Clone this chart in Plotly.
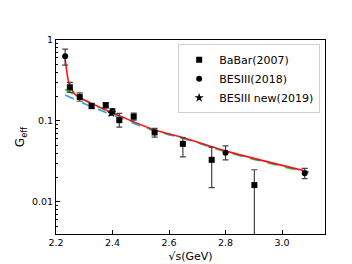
import plotly.graph_objects as go

# BaBar(2007)
babar_x = [2.249, 2.284, 2.326, 2.376, 2.424, 2.475, 2.549, 2.649, 2.751, 2.902]
babar_y = [0.26, 0.197, 0.153, 0.156, 0.102, 0.113, 0.072, 0.052, 0.033, 0.0161]
babar_ep = [0.04, 0.025, 0.012, 0.012, 0.022, 0.012, 0.009, 0.010, 0.014, 0.0088]
babar_em = [0.035, 0.022, 0.011, 0.011, 0.018, 0.011, 0.009, 0.016, 0.018, 0.01605]

# BESIII(2018)
bes18_x = [2.2324, 2.400, 2.800, 3.080]
bes18_y = [0.63, 0.132, 0.0404, 0.0225]
bes18_ep = [0.14, 0.010, 0.0086, 0.0034]
bes18_em = [0.14, 0.010, 0.0074, 0.0032]

# BESIII new(2019)
bes19_x = [2.396]
bes19_y = [0.125]
bes19_e = [0.008]

# fit curves
red_x = [2.2314, 2.2464, 2.2576, 2.2698, 2.3222, 2.4328, 2.5466, 2.6513, 2.8028, 3.0935]
red_y = [0.634, 0.287, 0.238, 0.209, 0.167, 0.1124, 0.0778, 0.0620, 0.0423, 0.0235]
green_x = [2.2325, 2.2698, 2.3222, 2.4328, 2.5466, 2.6513, 2.8028, 3.0935]
green_y = [0.244, 0.207, 0.165, 0.1110, 0.0765, 0.0608, 0.0412, 0.0227]
blue_x = [2.2325, 2.3222, 2.4328, 2.5466, 2.6513, 2.8028, 3.0935]
blue_y = [0.209, 0.152, 0.1065, 0.0757, 0.0610, 0.0418, 0.0232]

FONT = "DejaVu Sans"
ecol = "#444444"

fig = go.Figure()
fig.add_trace(go.Scatter(x=green_x, y=green_y, mode="lines", line=dict(color="#22dd22", width=1.6, dash="dash", shape="spline"), showlegend=False))
fig.add_trace(go.Scatter(x=blue_x, y=blue_y, mode="lines", line=dict(color="#3399ff", width=1.6, dash="dash", shape="spline"), showlegend=False))
fig.add_trace(go.Scatter(x=red_x, y=red_y, mode="lines", line=dict(color="#ff1111", width=1.6, shape="spline"), showlegend=False))

fig.add_trace(go.Scatter(x=babar_x, y=babar_y, mode="markers", name="BaBar(2007)",
    marker=dict(symbol="square", size=6, color="black"),
    error_y=dict(type="data", symmetric=False, array=babar_ep, arrayminus=babar_em, color=ecol, thickness=1.2, width=3)))
fig.add_trace(go.Scatter(x=bes18_x, y=bes18_y, mode="markers", name="BESIII(2018)",
    marker=dict(symbol="circle", size=6, color="black"),
    error_y=dict(type="data", symmetric=False, array=bes18_ep, arrayminus=bes18_em, color=ecol, thickness=1.2, width=3)))
fig.add_trace(go.Scatter(x=bes19_x, y=bes19_y, mode="markers", name="BESIII new(2019)",
    marker=dict(symbol="star", size=7, color="black"),
    error_y=dict(type="data", array=bes19_e, color=ecol, thickness=1.2, width=3)))

fig.update_layout(
    width=352, height=264,
    margin=dict(l=44, r=35, t=32, b=29),
    paper_bgcolor="white", plot_bgcolor="white",
    font=dict(family=FONT, size=10, color="black"),
    legend=dict(x=0.982, y=0.978, xanchor="right", yanchor="top",
                bgcolor="white", bordercolor="#d0d0d0", borderwidth=1,
                font=dict(size=11), itemwidth=30, tracegroupgap=0),
)
fig.update_xaxes(range=[2.2, 3.152], tickvals=[2.2, 2.4, 2.6, 2.8, 3.0], ticktext=["2.2", "2.4", "2.6", "2.8", "3.0"],
                 ticks="inside", ticklen=4, tickwidth=1, tickcolor="black", tickfont=dict(size=9.5),
                 showline=True, linecolor="black", linewidth=1, mirror=True, showgrid=False, zeroline=False,
                 title=dict(text="√s(GeV)", font=dict(size=11), standoff=4))
fig.update_yaxes(type="log", range=[-2.398, 0], tickvals=[0.01, 0.1, 1], ticktext=["0.01", "0.1", "1"],
                 ticks="inside", ticklen=4, tickwidth=1, tickcolor="black", tickfont=dict(size=9.5),
                 minor=dict(ticks="inside", ticklen=2, tickcolor="black",
                            tickvals=[0.004, 0.005, 0.006, 0.007, 0.008, 0.009,
                                      0.02, 0.03, 0.04, 0.05, 0.06, 0.07, 0.08, 0.09,
                                      0.2, 0.3, 0.4, 0.5, 0.6, 0.7, 0.8, 0.9]),
                 showline=True, linecolor="black", linewidth=1, mirror=True, showgrid=False, zeroline=False,
                 title=dict(text="G<sub>eff</sub>", font=dict(size=12), standoff=4))

fig.write_html("out.html")
